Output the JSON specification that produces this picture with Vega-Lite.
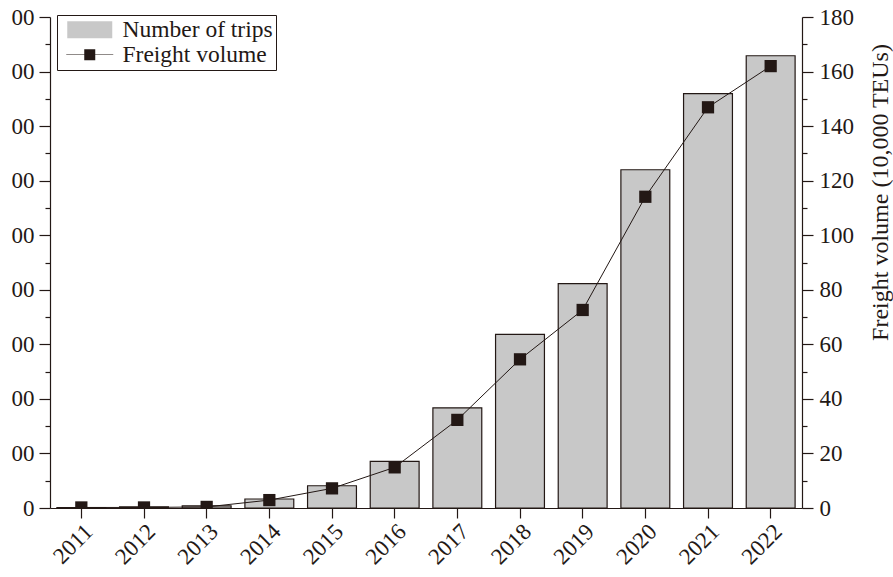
{
  "$schema": "https://vega.github.io/schema/vega-lite/v6.json",
  "autosize": "none",
  "width": 752,
  "height": 491,
  "padding": {"left": 50, "top": 17, "right": 91, "bottom": 69},
  "background": "white",
  "config": {
    "view": {"stroke": null},
    "font": "Liberation Serif",
    "axis": {
      "domainColor": "#231815", "tickColor": "#231815", "labelColor": "#231815", "titleColor": "#231815",
      "labelFont": "Liberation Serif", "titleFont": "Liberation Serif",
      "labelFontSize": 23, "titleFontSize": 24, "titleFontWeight": "normal",
      "grid": false, "domainWidth": 1.2, "tickWidth": 1.2
    },
    "legend": {
      "labelFont": "Liberation Serif", "labelFontSize": 23.5, "labelColor": "#231815"
    }
  },
  "data": {
    "values": [
      {"year": "2011", "trips": 17, "freight": 0.2},
      {"year": "2012", "trips": 42, "freight": 0.2},
      {"year": "2013", "trips": 80, "freight": 0.4},
      {"year": "2014", "trips": 330, "freight": 2.9},
      {"year": "2015", "trips": 815, "freight": 7.2},
      {"year": "2016", "trips": 1710, "freight": 14.9},
      {"year": "2017", "trips": 3673, "freight": 32.3},
      {"year": "2018", "trips": 6363, "freight": 54.5},
      {"year": "2019", "trips": 8225, "freight": 72.6},
      {"year": "2020", "trips": 12400, "freight": 114.1},
      {"year": "2021", "trips": 15190, "freight": 146.9},
      {"year": "2022", "trips": 16580, "freight": 162.0}
    ]
  },
  "layer": [
    {
      "mark": {"type": "bar", "fill": "#c8c8c8", "stroke": "#231815", "strokeWidth": 1.2, "fillOpacity": 1},
      "encoding": {
        "x": {
          "field": "year", "type": "ordinal",
          "scale": {"paddingInner": 0.22, "paddingOuter": 0.11},
          "axis": {"title": null, "orient": "bottom", "labelAngle": -45, "tickSize": 10, "labelPadding": 2, "domain": true}
        },
        "y": {
          "field": "trips", "type": "quantitative",
          "scale": {"domain": [0, 18000], "nice": false},
          "axis": {
            "orient": "left", "title": null, "format": "d",
            "values": [0, 1000, 2000, 3000, 4000, 5000, 6000, 7000, 8000, 9000, 10000, 11000, 12000, 13000, 14000, 15000, 16000, 17000, 18000],
            "labelExpr": "datum.value % 2000 ? '' : slice(datum.label, -2)",
            "tickSize": {"condition": {"test": "datum.value % 2000 === 0", "value": 11}, "value": 5},
            "labelPadding": 5
          }
        }
      }
    },
    {
      "mark": {"type": "line", "strokeWidth": 1, "color": "#231815"},
      "encoding": {
        "x": {"field": "year", "type": "ordinal"},
        "y": {
          "field": "freight", "type": "quantitative",
          "scale": {"domain": [0, 180], "nice": false},
          "axis": {
            "orient": "right", "title": "Freight volume (10,000 TEUs)",
            "values": [0, 10, 20, 30, 40, 50, 60, 70, 80, 90, 100, 110, 120, 130, 140, 150, 160, 170, 180],
            "labelExpr": "datum.value % 20 ? '' : datum.label",
            "tickSize": {"condition": {"test": "datum.value % 20 === 0", "value": 11}, "value": 5},
            "labelPadding": 6,
            "titleAngle": 270, "titleX": 78, "titleY": 175, "titleAlign": "center", "titleBaseline": "middle"
          }
        }
      }
    },
    {
      "mark": {"type": "point", "shape": "square", "filled": true, "size": 150, "opacity": 1, "color": "#231815", "clip": true},
      "encoding": {
        "x": {"field": "year", "type": "ordinal"},
        "y": {
          "field": "freight", "type": "quantitative",
          "scale": {"domain": [0, 180], "nice": false},
          "axis": null
        }
      }
    },
    {
      "mark": {"type": "point", "filled": true, "size": 400, "opacity": 0, "stroke": "#231815", "strokeWidth": 1},
      "encoding": {
        "x": {"field": "year", "type": "ordinal"},
        "y": {
          "field": "freight", "type": "quantitative",
          "scale": {"domain": [0, 180], "nice": false},
          "axis": null
        },
        "fill": {
          "datum": "Freight volume",
          "scale": {"domain": ["Number of trips", "Freight volume"], "range": ["#c8c8c8", "#231815"]},
          "legend": {
            "title": null, "orient": "none", "legendX": 7, "legendY": -2,
            "padding": 3, "rowPadding": 0, "symbolSize": 400, "symbolOffset": 18, "labelOffset": 21,
            "strokeColor": "#231815", "fillColor": "white",
            "symbolStrokeColor": "#231815", "symbolStrokeWidth": 1, "symbolOpacity": 1
          }
        },
        "shape": {
          "datum": "Freight volume",
          "scale": {"domain": ["Number of trips", "Freight volume"], "range": ["M-2.25,-0.85H2.25V0.85H-2.25Z", "M-2.35,-0.02H2.35V0.02H-2.35Z M-0.55,-0.55H0.55V0.55H-0.55Z"]},
          "legend": {
            "title": null, "orient": "none", "legendX": 7, "legendY": -2,
            "padding": 3, "rowPadding": 0, "symbolSize": 400, "symbolOffset": 18, "labelOffset": 21,
            "strokeColor": "#231815", "fillColor": "white",
            "symbolStrokeColor": "#231815", "symbolStrokeWidth": 1, "symbolOpacity": 1
          }
        }
      }
    }
  ],
  "resolve": {"scale": {"y": "independent"}}
}
